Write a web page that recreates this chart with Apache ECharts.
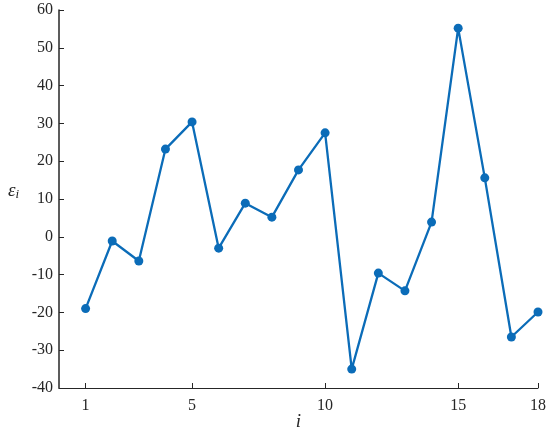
<!DOCTYPE html>
<html>
<head>
<meta charset="utf-8">
<script src="https://cdn.jsdelivr.net/npm/echarts@6/dist/echarts.min.js"></script>
<style>html,body{margin:0;padding:0;background:#fff}#main{width:550px;height:433px}</style>
</head>
<body>
<div id="main"></div>
<script>
// residuals per observation
var idx = [1,2,3,4,5,6,7,8,9,10,11,12,13,14,15,16,17,18];
var eps = [-19,-1.1,-6.4,23.2,30.4,-3,8.9,5.2,17.7,27.5,-35,-9.6,-14.3,3.9,55.2,15.6,-26.5,-19.9];
var xTicks = [1,5,10,15,18];

var chart = echarts.init(document.getElementById('main'));
var font = 'Liberation Serif, Times New Roman, serif';
var ink = '#262626';
chart.setOption({
  animation: false,
  grid: {left: 59, right: 12, top: 10, bottom: 45, outerBoundsMode: 'none', containLabel: false},
  xAxis: {
    type: 'value', min: 0, max: 18,
    name: 'i', nameLocation: 'middle', nameGap: 24, nameMoveOverlap: false,
    nameTextStyle: {fontFamily: font, fontStyle: 'italic', fontSize: 19, color: ink},
    axisLine: {onZero: false, lineStyle: {color: ink, width: 1}},
    axisTick: {inside: true, length: 5, customValues: xTicks, lineStyle: {color: ink}},
    axisLabel: {customValues: xTicks, fontFamily: font, fontSize: 16, color: ink, margin: 10},
    splitLine: {show: false}
  },
  yAxis: {
    type: 'value', min: -40, max: 60, interval: 10,
    name: '{a|ε}{b|i}', nameLocation: 'middle', nameRotate: 0, nameGap: 40,
    nameTextStyle: {padding: [0, 0, 16, 0], rich: {
      a: {fontFamily: font, fontStyle: 'italic', fontSize: 19, color: ink},
      b: {fontFamily: font, fontStyle: 'italic', fontSize: 13, color: ink, padding: [8,0,0,0]}
    }},
    axisLine: {show: true, onZero: false, lineStyle: {color: ink, width: 1.5}},
    axisTick: {show: true, inside: true, length: 5, lineStyle: {color: ink}},
    axisLabel: {fontFamily: font, fontSize: 16, color: ink, margin: 6},
    splitLine: {show: false}
  },
  series: [{
    type: 'line',
    data: idx.map(function (v, k) { return [v, eps[k]]; }),
    symbol: 'circle', symbolSize: 9,
    lineStyle: {color: '#0b6cb8', width: 2.3},
    itemStyle: {color: '#0b6cb8'}
  }]
});
</script>
</body>
</html>
